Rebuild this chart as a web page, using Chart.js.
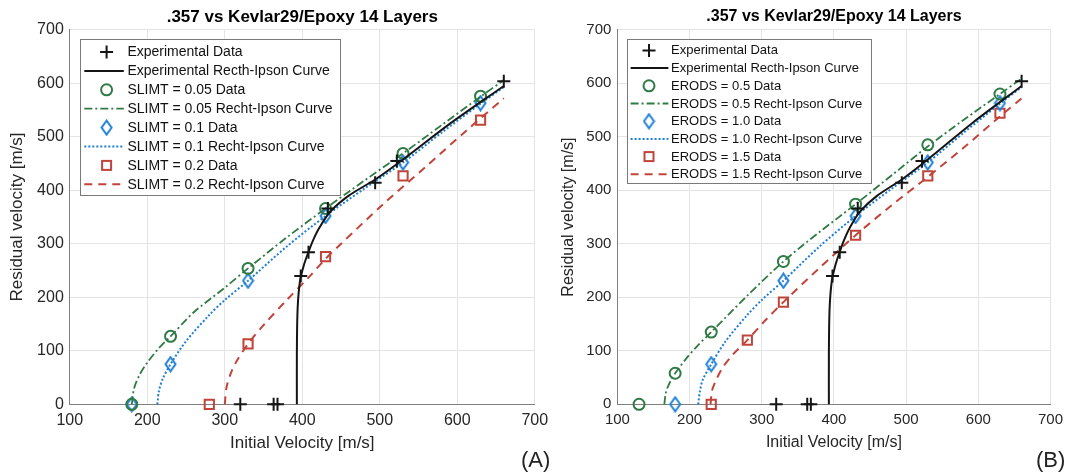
<!DOCTYPE html>
<html>
<head>
<meta charset="utf-8">
<title>.357 vs Kevlar29/Epoxy 14 Layers</title>
<script src="https://cdn.jsdelivr.net/npm/chart.js"></script>
<style>
    body { margin: 0; background: #fff; font-family: 'Liberation Sans', Arial, sans-serif; }
    .wrap { position: relative; width: 1070px; height: 475px; overflow: hidden; }
    canvas { position: absolute; top: 0; }
    #chartA { left: 0; z-index: 1; }
    #chartB { left: 545px; z-index: 2; }
    .tag { position: absolute; top: 447px; font-size: 22px; line-height: 26px; color: #222; z-index: 3; }
</style>
</head>
<body>
<div class="wrap">
    <canvas id="chartA" width="560" height="475"></canvas>
    <canvas id="chartB" width="525" height="475"></canvas>
    <div class="tag" style="left:521px">(A)</div>
    <div class="tag" style="left:1036px">(B)</div>
</div>
<script>
const FONT = "'Liberation Sans', Arial, sans-serif";
const TITLE = '.357 vs Kevlar29/Epoxy 14 Layers';

// experimental shots (same in both panels)
const expVi = [320, 363, 368, 398, 408, 433, 494, 522, 660];
const expVr = [0, 0, 0, 240, 284, 366, 414, 455, 604];
const expCurveVi = [393, 393, 394, 397, 402, 408, 414, 422, 436, 460, 496, 535, 591, 660];
const expCurveVr = [0, 100, 180, 230, 260, 285, 307, 330, 360, 390, 422, 463, 525, 595];

// (A) SLIMT study
const slimt005Vi = [180, 230, 330, 430, 530, 630];
const slimt005Vr = [0, 127, 254, 366, 469, 576];
const slimt005CurveVi = [180, 183, 190, 200, 215, 230, 260, 300, 330, 380, 430, 480, 530, 580, 630, 660];
const slimt005CurveVr = [0, 30, 55, 78, 105, 127, 172, 218, 254, 312, 366, 418, 469, 522, 575, 606];
const slimt01Vi = [180, 230, 330, 430, 530, 630];
const slimt01Vr = [0, 75, 231, 352, 452, 563];
const slimt01CurveVi = [213, 215, 220, 230, 250, 280, 300, 330, 380, 430, 480, 530, 580, 630, 660];
const slimt01CurveVr = [0, 25, 48, 75, 118, 167, 195, 231, 295, 352, 403, 452, 508, 562, 593];
const slimt02Vi = [280, 330, 430, 530, 630];
const slimt02Vr = [0, 113, 276, 427, 531];
const slimt02CurveVi = [300, 302, 307, 315, 330, 350, 380, 410, 430, 450, 505, 560, 612, 660];
const slimt02CurveVr = [0, 30, 55, 80, 113, 148, 195, 240, 272, 300, 375, 445, 512, 572];

// (B) ERODS study
const erods05Vi = [130, 180, 230, 330, 430, 530, 630];
const erods05Vr = [0, 58, 135, 267, 374, 485, 580];
const erods05CurveVi = [165, 167, 170, 175, 180, 195, 210, 230, 280, 330, 380, 430, 480, 530, 580, 630, 660];
const erods05CurveVr = [0, 21, 33, 47, 58, 85, 108, 135, 203, 267, 322, 374, 428, 482, 532, 580, 609];
const erods10Vi = [180, 230, 330, 430, 530, 630];
const erods10Vr = [0, 75, 231, 352, 452, 563];
const erods10CurveVi = [212, 214, 218, 230, 250, 280, 300, 330, 380, 430, 480, 530, 580, 630, 660];
const erods10CurveVr = [0, 22, 45, 75, 118, 167, 195, 231, 295, 352, 403, 452, 508, 562, 593];
const erods15Vi = [230, 280, 330, 430, 530, 630];
const erods15Vr = [0, 120, 191, 316, 427, 544];
const erods15CurveVi = [229, 231, 235, 245, 260, 280, 305, 330, 380, 430, 480, 530, 580, 630, 660];
const erods15CurveVr = [0, 25, 40, 67, 93, 120, 157, 191, 255, 316, 372, 425, 480, 538, 572];

const xTicks = [100, 200, 300, 400, 500, 600, 700];
const yTicks = [0, 100, 200, 300, 400, 500, 600, 700];

const BLACK = '#151515';
const GREEN = '#2f7a45';
const BLUE = '#1f7fd4';
const RED = '#c0443a';

function pts(xs, ys) {
    return xs.map((x, i) => ({ x: x, y: ys[i] }));
}

// narrow matlab style diamond
function makeDiamond(color) {
    const c = document.createElement('canvas');
    c.width = 13; c.height = 17;
    const g = c.getContext('2d');
    g.strokeStyle = color;
    g.lineWidth = 2;
    g.beginPath();
    g.moveTo(6.5, 1.5); g.lineTo(11.5, 8.5); g.lineTo(6.5, 15.5); g.lineTo(1.5, 8.5);
    g.closePath();
    g.stroke();
    return c;
}
const diamond = makeDiamond(BLUE);

function markerSet(label, xs, ys, color, style) {
    return {
        label: label,
        data: pts(xs, ys),
        showLine: false,
        pointStyle: style,
        pointRadius: style === 'cross' ? 6.5 : (style === 'rect' ? 6.5 : 5.5),
        pointBorderWidth: 2,
        pointBorderColor: color,
        pointBackgroundColor: 'rgba(0,0,0,0)',
        borderColor: color,
        clip: false
    };
}

function curveSet(label, xs, ys, color, dash, width) {
    return {
        label: label,
        data: pts(xs, ys),
        showLine: true,
        pointRadius: 0,
        borderColor: color,
        borderWidth: width,
        borderDash: dash,
        tension: 0.3,
        fill: false,
        clip: false
    };
}

function drawMarker(ctx, ds, x, y) {
    ctx.save();
    ctx.strokeStyle = ds.pointBorderColor;
    ctx.lineWidth = 2;
    ctx.beginPath();
    if (ds.pointStyle === 'cross') {
        ctx.moveTo(x - 6.5, y); ctx.lineTo(x + 6.5, y);
        ctx.moveTo(x, y - 6.5); ctx.lineTo(x, y + 6.5);
        ctx.stroke();
    } else if (ds.pointStyle === 'circle') {
        ctx.arc(x, y, 5.5, 0, Math.PI * 2);
        ctx.stroke();
    } else if (ds.pointStyle === 'rect') {
        ctx.strokeRect(x - 4.5, y - 4.5, 9, 9);
    } else {
        ctx.drawImage(ds.pointStyle, x - 6.5, y - 8.5);
    }
    ctx.restore();
}

// legend box inside the plot, matlab look
const boxLegend = {
    id: 'boxLegend',
    afterDatasetsDraw(chart, args, o) {
        const ctx = chart.ctx;
        const area = chart.chartArea;
        const sets = chart.data.datasets;
        ctx.save();
        ctx.font = o.fontSize + 'px ' + FONT;
        let maxW = 0;
        sets.forEach(ds => { maxW = Math.max(maxW, ctx.measureText(ds.label).width); });
        const x0 = Math.round(area.left + o.dx), y0 = Math.round(area.top + o.dy);
        const w = Math.round(o.textX + maxW + o.padRight);
        const h = Math.round(o.firstRow + o.rowH * (sets.length - 1) + o.padBottom);
        ctx.fillStyle = '#fff';
        ctx.fillRect(x0, y0, w, h);
        ctx.strokeStyle = '#7a7a7a';
        ctx.lineWidth = 1;
        ctx.strokeRect(x0 + 0.5, y0 + 0.5, w, h);
        sets.forEach((ds, i) => {
            const y = y0 + o.firstRow + i * o.rowH;
            if (ds.showLine) {
                ctx.save();
                ctx.strokeStyle = ds.borderColor;
                ctx.lineWidth = ds.borderWidth;
                ctx.setLineDash(ds.borderDash || []);
                ctx.beginPath();
                ctx.moveTo(x0 + o.lineFrom, y);
                ctx.lineTo(x0 + o.lineTo, y);
                ctx.stroke();
                ctx.restore();
            } else {
                drawMarker(ctx, ds, x0 + o.markerX, y);
            }
            ctx.fillStyle = '#111';
            ctx.textBaseline = 'middle';
            ctx.textAlign = 'left';
            ctx.fillText(ds.label, x0 + o.textX, y + 0.5);
        });
        ctx.restore();
    }
};

function makeChart(id, datasets, s) {
    new Chart(document.getElementById(id), {
        type: 'scatter',
        data: { datasets: datasets },
        plugins: [boxLegend],
        options: {
            responsive: false,
            animation: false,
            layout: { padding: { left: 0, right: s.padRight, top: 0, bottom: 0 } },
            scales: {
                x: {
                    type: 'linear', min: 100, max: 700,
                    afterBuildTicks: sc => { sc.ticks = xTicks.map(v => ({ value: v })); },
                    afterFit: sc => { sc.height = 70.7; },
                    ticks: { font: { family: FONT, size: s.tick }, color: '#262626', padding: 7, maxRotation: 0 },
                    grid: { color: '#e4e4e4', drawTicks: false },
                    border: { color: '#808080', width: 1 },
                    title: {
                        display: true, text: 'Initial Velocity [m/s]', color: '#262626',
                        font: { family: FONT, size: s.axis }, padding: { bottom: s.xTitlePad, top: 0 }
                    }
                },
                y: {
                    type: 'linear', min: 0, max: 700,
                    afterBuildTicks: sc => { sc.ticks = yTicks.map(v => ({ value: v })); },
                    afterFit: sc => { sc.width = s.left; },
                    ticks: { font: { family: FONT, size: s.tick }, color: '#262626', padding: 6 },
                    grid: { color: '#e4e4e4', drawTicks: false },
                    border: { color: '#808080', width: 1 },
                    title: {
                        display: true, text: 'Residual velocity [m/s]', color: '#262626',
                        font: { family: FONT, size: s.axis }, padding: { top: s.yTitlePad, bottom: 0 }
                    }
                }
            },
            plugins: {
                legend: { display: false },
                tooltip: { enabled: false },
                title: {
                    display: true, text: TITLE, color: '#000', fullSize: false,
                    font: { family: FONT, size: s.title, weight: 'bold' },
                    padding: { top: s.titleTop, bottom: 29.8 - s.titleTop - s.title * 1.2 }
                },
                boxLegend: s.legend
            }
        }
    });
}

makeChart('chartA', [
    markerSet('Experimental Data', expVi, expVr, BLACK, 'cross'),
    curveSet('Experimental Recth-Ipson Curve', expCurveVi, expCurveVr, BLACK, [], 2),
    markerSet('SLIMT = 0.05 Data', slimt005Vi, slimt005Vr, GREEN, 'circle'),
    curveSet('SLIMT = 0.05 Recht-Ipson Curve', slimt005CurveVi, slimt005CurveVr, GREEN, [8, 3, 2, 3], 1.8),
    markerSet('SLIMT = 0.1 Data', slimt01Vi, slimt01Vr, BLUE, diamond),
    curveSet('SLIMT = 0.1 Recht-Ipson Curve', slimt01CurveVi, slimt01CurveVr, BLUE, [2, 2], 2),
    markerSet('SLIMT = 0.2 Data', slimt02Vi, slimt02Vr, RED, 'rect'),
    curveSet('SLIMT = 0.2 Recht-Ipson Curve', slimt02CurveVi, slimt02CurveVr, RED, [8, 6], 2)
], {
    left: 69.8, padRight: 25.2, tick: 16, axis: 17, title: 17, titleTop: 7,
    xTitlePad: 21.8, yTitlePad: 6.8,
    legend: { dx: 10.2, dy: 9.5, fontSize: 14, firstRow: 13, rowH: 18.9, padBottom: 10.7,
              textX: 47.4, lineFrom: 4.3, lineTo: 43.8, markerX: 26.6, padRight: 8 }
});

makeChart('chartB', [
    markerSet('Experimental Data', expVi, expVr, BLACK, 'cross'),
    curveSet('Experimental Recth-Ipson Curve', expCurveVi, expCurveVr, BLACK, [], 2),
    markerSet('ERODS = 0.5 Data', erods05Vi, erods05Vr, GREEN, 'circle'),
    curveSet('ERODS = 0.5 Recht-Ipson Curve', erods05CurveVi, erods05CurveVr, GREEN, [8, 3, 2, 3], 1.8),
    markerSet('ERODS = 1.0 Data', erods10Vi, erods10Vr, BLUE, diamond),
    curveSet('ERODS = 1.0 Recht-Ipson Curve', erods10CurveVi, erods10CurveVr, BLUE, [2, 2], 2),
    markerSet('ERODS = 1.5 Data', erods15Vi, erods15Vr, RED, 'rect'),
    curveSet('ERODS = 1.5 Recht-Ipson Curve', erods15CurveVi, erods15CurveVr, RED, [8, 6], 2)
], {
    left: 72.4, padRight: 17, tick: 15, axis: 16, title: 16, titleTop: 7.4,
    xTitlePad: 22.4, yTitlePad: 14.1,
    legend: { dx: 9.6, dy: 9.5, fontSize: 13, firstRow: 11.4, rowH: 17.7, padBottom: 9,
              textX: 44, lineFrom: 3.6, lineTo: 41.4, markerX: 22, padRight: 9 }
});
</script>
</body>
</html>
